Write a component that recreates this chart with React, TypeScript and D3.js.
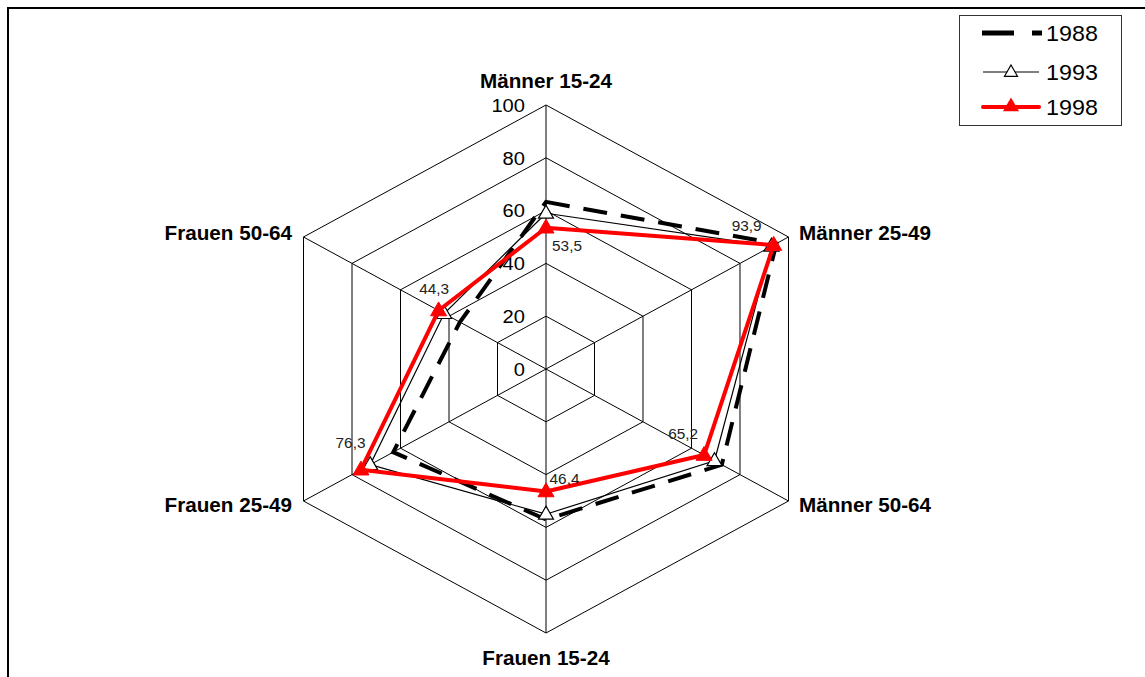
import React from "react";
import * as d3 from "d3";

const categories = ["Männer 15-24", "Männer 25-49", "Männer 50-64", "Frauen 15-24", "Frauen 25-49", "Frauen 50-64"];
const series1988 = [63.3, 95, 72.5, 57, 63, 35.5];
const series1993 = [59, 93, 69.5, 55, 72.5, 42];
const series1998 = [53.5, 93.9, 65.2, 46.4, 76.3, 44.3];
const dataLabels1998 = ["53,5", "93,9", "65,2", "46,4", "76,3", "44,3"];
const ticks = [0, 20, 40, 60, 80, 100];
const legendYears = ["1988", "1993", "1998"];

// styling / placement (not data)
const labelOffsets: [number, number][] = [[21, 18], [-27, -19], [-21, -21], [18.5, -12.5], [-10.5, -27], [-4.5, -21.5]];
const catLabelPos: { x: number; y: number; anchor: string }[] = [
  { x: 546, y: 81, anchor: "middle" },
  { x: 799, y: 233, anchor: "start" },
  { x: 799, y: 505, anchor: "start" },
  { x: 546, y: 658, anchor: "middle" },
  { x: 292, y: 505, anchor: "end" },
  { x: 292, y: 233, anchor: "end" },
];

const W = 1145, H = 677;
const cx = 546, cy = 369;
const RX = 280, RY = 264;
const SX = 1.06;
const FONT = "'Liberation Sans', Arial, sans-serif";

const rScale = d3.scaleLinear().domain([0, 100]).range([0, 1]);
const angle = (i: number) => (i * 2 * Math.PI) / categories.length;
const pt = (i: number, v: number): [number, number] => [
  cx + RX * rScale(v) * Math.sin(angle(i)),
  cy - RY * rScale(v) * Math.cos(angle(i)),
];

const closedLine = d3.line<[number, number]>().curve(d3.curveLinearClosed);

const tri = (x: number, y: number, s: number) => {
  const h = s * 0.866;
  return `M${x},${y - h * 0.62}L${x + s / 2},${y + h * 0.38}L${x - s / 2},${y + h * 0.38}Z`;
};

function T(props: { x: number; y: number; size: number; anchor?: string; bold?: boolean; children: any; fill?: string }) {
  const { x, y, size, anchor = "start", bold = false, children, fill = "#000" } = props;
  return (
    <text
      transform={`translate(${x},${y}) scale(${SX},1)`}
      textAnchor={anchor as any}
      dominantBaseline="central"
      fontFamily={FONT}
      fontSize={size}
      fontWeight={bold ? "bold" : "normal"}
      fill={fill}
    >
      {children}
    </text>
  );
}

export default function App() {
  const gridLevels = ticks.filter((t) => t > 0);
  const pts88 = series1988.map((v, i) => pt(i, v));
  const pts93 = series1993.map((v, i) => pt(i, v));
  const pts98 = series1998.map((v, i) => pt(i, v));

  return (
    <svg width={W} height={H} style={{ position: "fixed", left: 0, top: 0, background: "#fff" }}>
      <rect x={0} y={0} width={W} height={H} fill="#fff" />
      {/* frame */}
      <line x1={8} y1={8} x2={W} y2={8} stroke="#000" strokeWidth={2} />
      <line x1={8} y1={7} x2={8} y2={H} stroke="#000" strokeWidth={2} />

      {/* grid */}
      {gridLevels.map((lv) => (
        <path
          key={lv}
          d={closedLine(categories.map((_, i) => pt(i, lv)))!}
          fill="none"
          stroke="#000"
          strokeWidth={1}
        />
      ))}
      {categories.map((_, i) => {
        const [x, y] = pt(i, 100);
        return <line key={i} x1={cx} y1={cy} x2={x} y2={y} stroke="#000" strokeWidth={1} />;
      })}

      {/* tick labels */}
      {ticks.map((t) => (
        <T key={t} x={525} y={cy - RY * rScale(t)} size={19} anchor="end">
          {t}
        </T>
      ))}

      {/* category labels */}
      {categories.map((c, i) => (
        <T key={c} x={catLabelPos[i].x} y={catLabelPos[i].y} size={19.5} anchor={catLabelPos[i].anchor} bold>
          {c}
        </T>
      ))}

      {/* 1988 */}
      <path d={closedLine(pts88)!} fill="none" stroke="#000" strokeWidth={4} strokeDasharray="24 14" strokeLinejoin="miter" />

      {/* 1993 */}
      <path d={closedLine(pts93)!} fill="none" stroke="#000" strokeWidth={1.2} />
      {pts93.map(([x, y], i) => (
        <path key={i} d={tri(x, y, 15)} fill="#fff" stroke="#000" strokeWidth={1.2} />
      ))}

      {/* 1998 */}
      <path d={closedLine(pts98)!} fill="none" stroke="#ff0000" strokeWidth={4} strokeLinejoin="round" />
      {pts98.map(([x, y], i) => (
        <path key={i} d={tri(x, y, 16)} fill="#ff0000" stroke="#ff0000" strokeWidth={1} />
      ))}

      {/* data labels */}
      {pts98.map(([x, y], i) => (
        <T key={i} x={x + labelOffsets[i][0]} y={y + labelOffsets[i][1]} size={14.5} anchor="middle" fill="#222">
          {dataLabels1998[i]}
        </T>
      ))}

      {/* legend */}
      <rect x={959.5} y={15.5} width={162} height={110} fill="#fff" stroke="#333" strokeWidth={1} />
      {legendYears.map((yr, k) => {
        const ly = [33, 72, 107][k];
        return (
          <g key={yr}>
            {k === 0 && (
              <line x1={982} y1={ly} x2={1042} y2={ly} stroke="#000" strokeWidth={5} strokeDasharray="32 18" />
            )}
            {k === 1 && (
              <>
                <line x1={983} y1={ly} x2={1039} y2={ly} stroke="#000" strokeWidth={1.2} />
                <path d={tri(1011, ly, 13)} fill="#fff" stroke="#000" strokeWidth={1.2} />
              </>
            )}
            {k === 2 && (
              <>
                <line x1={983} y1={ly} x2={1039} y2={ly} stroke="#ff0000" strokeWidth={4} strokeLinecap="round" />
                <path d={tri(1011, ly - 1, 16)} fill="#ff0000" />
              </>
            )}
            <T x={1046} y={ly} size={22}>
              {yr}
            </T>
          </g>
        );
      })}
    </svg>
  );
}
